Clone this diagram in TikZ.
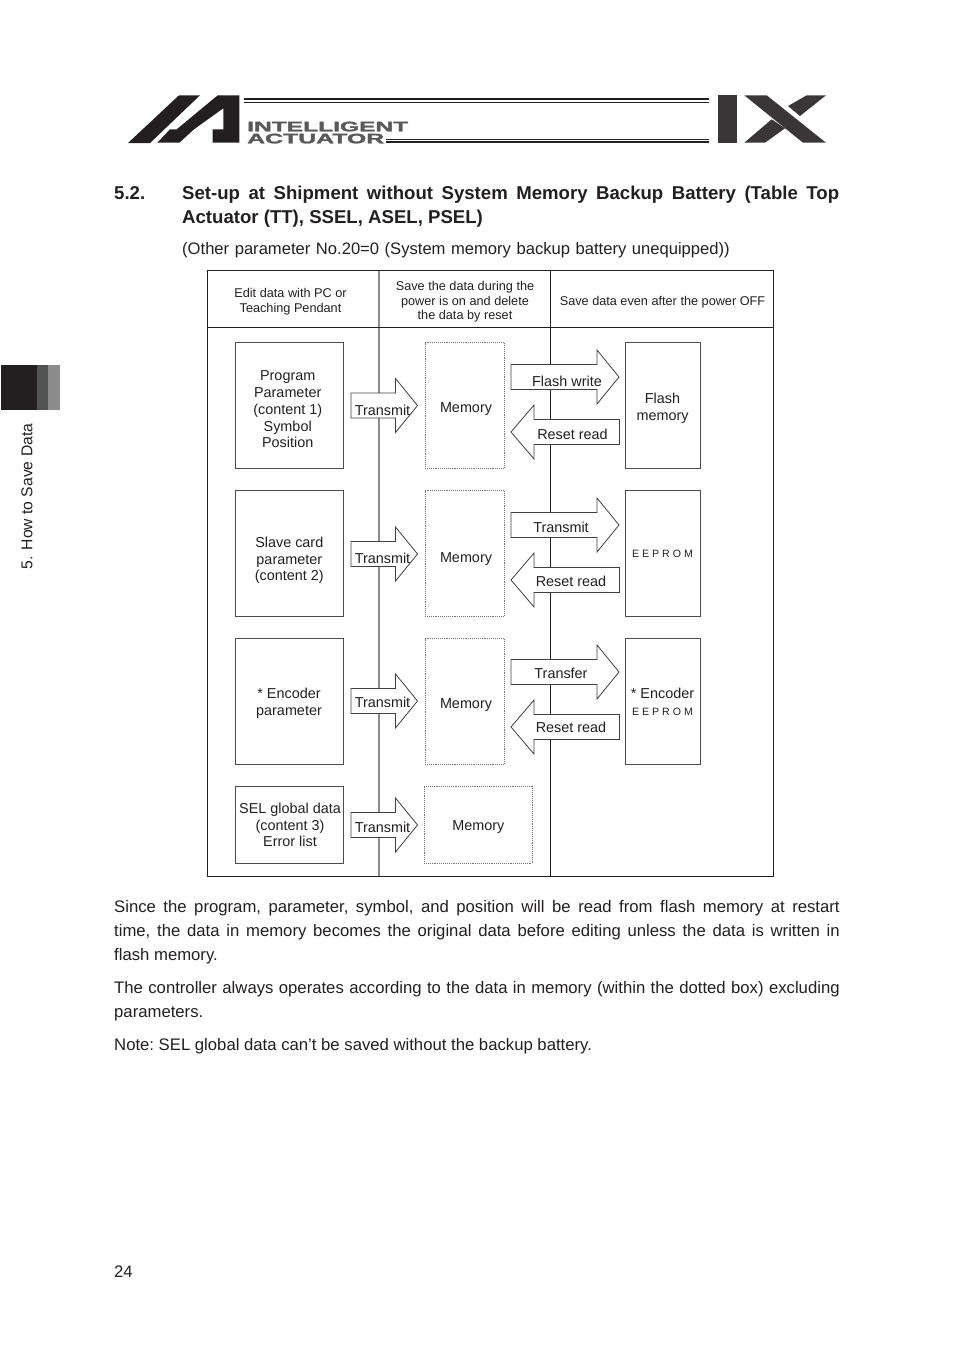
\documentclass[tikz,border=0pt]{standalone}
\usepackage{fontspec}
\setmainfont{Liberation Sans}
\newfontfamily\brandfont[FakeBold=1.6]{Liberation Sans Bold}
\usepackage{xcolor}
\definecolor{inkc}{HTML}{231F20}
\definecolor{logoc}{HTML}{3A3637}
\tikzset{
  lbl/.style={font=\fontsize{14.4}{16.7}\selectfont,text=inkc,inner sep=0pt,align=center},
  hdr/.style={font=\fontsize{12.7}{14.6}\selectfont,text=inkc,inner sep=0pt,align=center},
  para/.style={font=\fontsize{16.7}{24}\selectfont\frenchspacing,text=inkc,inner sep=0pt,anchor=north west,align=justify,text width=725.5},
  srcbox/.style={draw=black!70,line width=0.9,minimum width=108,minimum height=125.6,inner sep=0pt},
  membox/.style={draw=black!55,densely dotted,line width=0.9,minimum width=79,minimum height=125.6,inner sep=0pt},
  romebox/.style={draw=black!70,line width=0.9,minimum width=75,minimum height=125.6,inner sep=0pt},
  blockarr/.style={draw=black!75,fill=white,line width=0.8,line join=miter}
}
\newcommand{\rightblock}[3]{% tail x, tip x, centre y
  \draw[blockarr] (#1,#3-12.5) -- (#2-22,#3-12.5) -- (#2-22,#3-27) -- (#2,#3) -- (#2-22,#3+27) -- (#2-22,#3+12.5) -- (#1,#3+12.5) -- cycle;}
\newcommand{\leftblock}[3]{% tail x, tip x, centre y
  \draw[blockarr] (#1,#3-12.5) -- (#2+23,#3-12.5) -- (#2+23,#3-27) -- (#2,#3) -- (#2+23,#3+27) -- (#2+23,#3+12.5) -- (#1,#3+12.5) -- cycle;}
\begin{document}
\begin{tikzpicture}[x=1pt,y=-1pt]
\useasboundingbox (0,0) rectangle (954,1350);
% logo
\fill[inkc] (128,143) -- (179,95.3) -- (200,95.3) -- (150,143) -- cycle;
\fill[inkc] (157.3,142.7) -- (170,129.3) -- (176.7,129.3) -- (217.7,95.3) -- (239.3,95.3) -- (239.3,142.7) -- (212.7,142.7) -- (212.7,129.3) -- (223.3,129.3) -- (223.3,108.3) -- (194,129.3) -- (179.3,142.7) -- cycle;
\fill[inkc] (244,98) rectangle (709,100.2);
\fill[inkc] (244,101.6) rectangle (709,102.8);
\fill[inkc] (386,138.6) rectangle (709,139.6);
\fill[inkc] (386,141) rectangle (709,142.6);
\node[inner sep=0pt,anchor=north west,text=black!65] (brandtop) at (247,121.5) {\resizebox{161pt}{9.6pt}{\brandfont INTELLIGENT}};
\node[inner sep=0pt,anchor=north west,text=black!65] (brandbot) at (247,133.5) {\resizebox{137pt}{9.6pt}{\brandfont ACTUATOR}};
\fill[logoc] (718,95.3) rectangle (737.3,142.7);
\fill[logoc] (744.3,95.3) -- (766.7,95.3) -- (826,142.7) -- (803,142.7) -- cycle;
\fill[logoc] (744.3,142.7) -- (771.7,119.3) -- (785,128.3) -- (765,142.7) -- cycle;
\fill[logoc] (788,106) -- (806.7,95.3) -- (826,95.3) -- (800,116) -- cycle;
% side tab
\fill[inkc] (1,365) rectangle (37,410);
\fill[black!68] (37,365) rectangle (48,410);
\fill[black!45] (48,365) rectangle (60,410);
\node[lbl,rotate=90,font=\fontsize{15.7}{18}\selectfont] (sidetab) at (27,496.5) {5. How to Save Data};
% heading
\node[para,text width=657,font=\fontsize{18.6}{24}\selectfont\bfseries] (title) at (182,186) {Set-up at Shipment without System Memory Backup Battery (Table Top\linebreak Actuator (TT), SSEL, ASEL, PSEL)};
\node[para,text width=,font=\fontsize{18.6}{24}\selectfont\bfseries] (secnum) at (114,186) {5.2.};
\node[para,text width=600,align=left,font=\fontsize{16.6}{24}\selectfont] (subtitle) at (182,242) {(Other parameter No.20=0 (System memory backup battery unequipped))};
% table frame
\draw[black!45,line width=1.6] (379,270.5) -- (379,876.5);
\draw[inkc,line width=1] (550.5,270.5) -- (550.5,876.5);
\draw[inkc,line width=1] (207.5,327) -- (773.5,327);
\draw[inkc,line width=1.3] (207.5,270.5) rectangle (773.5,876.5);
\node[hdr] (headedit) at (290.5,302) {Edit data with PC or\\Teaching Pendant};
\node[hdr] (headsave) at (465,302) {Save the data during the\\power is on and delete\\the data by reset};
\node[hdr] (headkeep) at (662.5,302) {Save data even after the power OFF};
% source boxes
\node[srcbox] (src1) at (289.3,405.6) {};
\node[lbl] (src1txt) at (287.7,409.5) {Program\\Parameter\\(content 1)\\Symbol\\Position};
\node[srcbox] (src2) at (289.3,553.6) {};
\node[lbl] (src2txt) at (289.3,560.5) {Slave card\\parameter\\(content 2)};
\node[srcbox] (src3) at (289.3,701.6) {};
\node[lbl] (src3txt) at (289,703.5) {* Encoder\\parameter};
\node[srcbox,minimum height=77.6] (src4) at (289.3,824.8) {};
\node[lbl] (src4txt) at (290,825) {SEL global data\\(content 3)\\Error list};
% memory boxes
\foreach \i/\yc/\yt in {1/405.6/409,2/553.6/559,3/701.6/705}{
  \node[membox] (mem\i) at (464.5,\yc) {};
  \node[lbl] (mem\i txt) at (466,\yt) {Memory};
}
\node[membox,minimum width=108,minimum height=77.6] (mem4) at (478,824.8) {};
\node[lbl] (mem4txt) at (478.3,827) {Memory};
% saved data boxes
\node[romebox] (rom1) at (662.5,405.6) {};
\node[lbl] (rom1txt) at (662.5,408) {Flash\\memory};
\node[romebox] (rom2) at (662.5,553.6) {};
\node[lbl,font=\fontsize{10.6}{12}\selectfont] (rom2txt) at (662.5,553.5) {E E P R O M};
\node[romebox] (rom3) at (662.5,701.6) {};
\node[lbl] (rom3txt) at (662.5,702) {* Encoder\\{\fontsize{10.6}{12}\selectfont E E P R O M}};
% block arrows
\foreach \i/\yc/\yt in {1/405.5/410,2/554/558.5,3/701/702,4/825/827}{
  \rightblock{351}{417.5}{\yc}
  \node[lbl] (xmit\i) at (382.5,\yt) {Transmit};
}
\rightblock{511}{619}{377}
\node[lbl] (wr1) at (567,381) {Flash write};
\leftblock{619.5}{511}{432}
\node[lbl] (rd1) at (572.5,434) {Reset read};
\rightblock{511}{619}{525}
\node[lbl] (wr2) at (561,527) {Transmit};
\leftblock{619.5}{511}{580}
\node[lbl] (rd2) at (571,581) {Reset read};
\rightblock{511}{619}{672}
\node[lbl] (wr3) at (561,673) {Transfer};
\leftblock{619.5}{511}{727}
\node[lbl] (rd3) at (571,727.5) {Reset read};
% body text
\node[para] (body1) at (114,900.5) {Since the program, parameter, symbol, and position will be read from flash memory at restart\linebreak time, the data in memory becomes the original data before editing unless the data is written in\linebreak flash memory.};
\node[para] (body2) at (114,981.5) {The controller always operates according to the data in memory (within the dotted box) excluding parameters.};
\node[para] (body3) at (114,1038.5) {Note: SEL global data can’t be saved without the backup battery.};
\node[para,text width=40,align=left] (pageno) at (114,1265.5) {24};
\end{tikzpicture}
\end{document}
